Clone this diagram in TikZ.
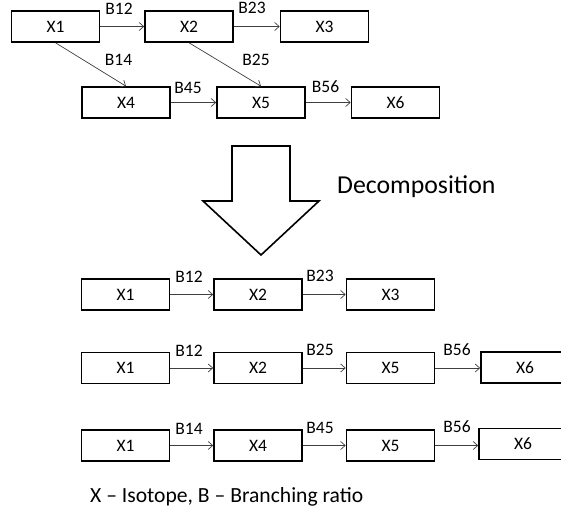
\documentclass[tikz,border=0pt]{standalone}
\usepackage{fontspec}
\setmainfont{Carlito}
\usetikzlibrary{arrows.meta}
\begin{document}
\begin{tikzpicture}[x=1pt,y=-1pt,
  box/.style={draw,line width=1.6pt,minimum width=88pt,minimum height=31pt,inner sep=0pt,font=\fontsize{17.5}{17.5}\selectfont},
  conn/.style={draw=black!75,line width=0.7pt,-{Straight Barb[length=4.5pt,width=8pt,line width=0.7pt]}},
  lbl/.style={font=\fontsize{17.5}{17.5}\selectfont,inner sep=0pt}]
\useasboundingbox (0,0) rectangle (561,510);
\clip (0,0) rectangle (561,510);
% top graph
\node[box] (a1) at (55.5,26.5) {X1};
\node[box] (a2) at (189,26.5) {X2};
\node[box] (a3) at (324.5,26.5) {X3};
\node[box] (a4) at (126,102.5) {X4};
\node[box] (a5) at (261,102.5) {X5};
\node[box] (a6) at (395.5,102.5) {X6};
\draw[conn] (a1) -- (a2);
\draw[conn] (a2) -- (a3);
\draw[conn] (a1.south) -- (a4.north);
\draw[conn] (a2.south) -- (a5.north);
\draw[conn] (a4) -- (a5);
\draw[conn] (a5) -- (a6);
\node[lbl] (la12) at (119,9) {B12};
\node[lbl] (la23) at (252,8) {B23};
\node[lbl] (la14) at (118.5,60) {B14};
\node[lbl] (la25) at (256,60) {B25};
\node[lbl] (la45) at (188,88) {B45};
\node[lbl] (la56) at (325.5,87) {B56};
% big arrow
\draw[line width=1.6pt,line join=miter] (232,146) -- (290,146) -- (290,201) -- (319,201) -- (261,255) -- (203,201) -- (232,201) -- cycle;
\node[anchor=west,inner sep=0pt,font=\fontsize{25.8}{25.8}\selectfont] (dec) at (337,187) {Decomposition};
% row 1
\node[box] (r1a) at (125.5,294.5) {X1};
\node[box] (r1b) at (258,294.5) {X2};
\node[box] (r1c) at (390.5,294.5) {X3};
\draw[conn] (r1a) -- (r1b);
\draw[conn] (r1b) -- (r1c);
\node[lbl] (l1a) at (189,277) {B12};
\node[lbl] (l1b) at (320,276) {B23};
% row 2
\node[box] (r2a) at (125.5,368) {X1};
\node[box] (r2b) at (258,368) {X2};
\node[box] (r2c) at (390.5,368) {X5};
\node[box] (r2d) at (525,367.5) {X6};
\draw[conn] (r2a) -- (r2b);
\draw[conn] (r2b) -- (r2c);
\draw[conn] (r2c) -- (r2c -| r2d.west);
\node[lbl] (l2a) at (189,351) {B12};
\node[lbl] (l2b) at (320,350) {B25};
\node[lbl] (l2c) at (457,350) {B56};
% row 3
\node[box] (r3a) at (125.5,445.5) {X1};
\node[box] (r3b) at (258,445.5) {X4};
\node[box] (r3c) at (390.5,445.5) {X5};
\node[box] (r3d) at (523,444) {X6};
\draw[conn] (r3a) -- (r3b);
\draw[conn] (r3b) -- (r3c);
\draw[conn] (r3c) -- (r3c -| r3d.west);
\node[lbl] (l3a) at (189,429) {B14};
\node[lbl] (l3b) at (320,428) {B45};
\node[lbl] (l3c) at (457,427) {B56};
% legend
\node[anchor=west,inner sep=0pt,font=\fontsize{21.6}{21.6}\selectfont] (leg) at (90,497) {X – Isotope, B – Branching ratio};
\end{tikzpicture}
\end{document}
